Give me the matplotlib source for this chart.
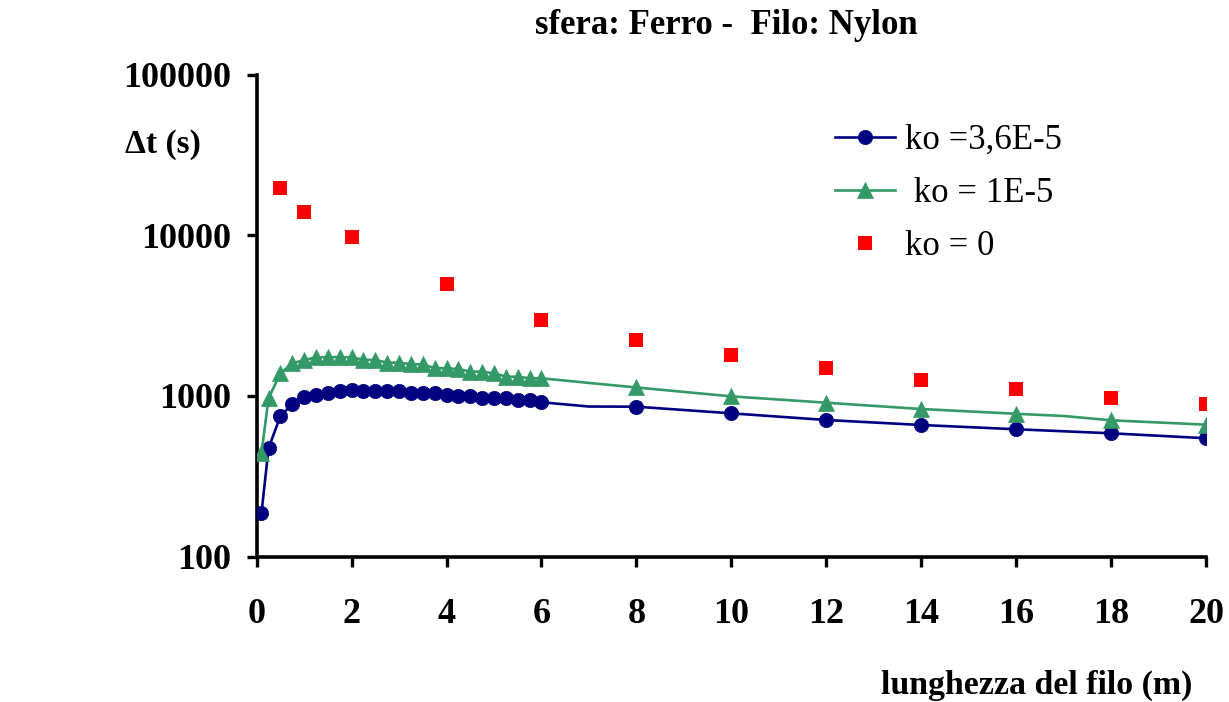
import matplotlib
matplotlib.use("Agg")
import matplotlib.pyplot as plt
from matplotlib.ticker import FixedLocator, NullLocator, FixedFormatter
import numpy as np

# ---- data ----
x_fine = [0.1, 0.25, 0.5, 0.75, 1.0, 1.25, 1.5, 1.75, 2.0, 2.25, 2.5, 2.75,
          3.0, 3.25, 3.5, 3.75, 4.0, 4.25, 4.5, 4.75, 5.0, 5.25, 5.5, 5.75, 6.0]
x_coarse = [8, 10, 12, 14, 16, 18, 20]

blue_fine = [186, 473, 751, 892, 982, 1020, 1048, 1079, 1082, 1078, 1079, 1079,
             1076, 1045, 1048, 1046, 1010, 1006, 1004, 975, 972, 970, 948, 944, 914]
blue_coarse = [858, 780, 709, 660, 621, 586, 546]
blue_extra_x = [7]
blue_extra_y = [860]

green_fine = [440, 968, 1384, 1598, 1675, 1741, 1745, 1745, 1741, 1680, 1675, 1615,
              1612, 1578, 1575, 1490, 1487, 1472, 1420, 1417, 1384, 1320, 1318, 1290, 1289]
green_coarse = [1130, 995, 908, 830, 775, 706, 663]
green_extra_x = [7, 17]
green_extra_y = [1206, 751]

red_x = [0.5, 1, 2, 4, 6, 8, 10, 12, 14, 16, 18, 20]
red_y = [19780, 13900, 9800, 4980, 2970, 2230, 1793, 1485, 1258, 1105, 975, 887]

x_ticks = [0, 2, 4, 6, 8, 10, 12, 14, 16, 18, 20]
y_ticks = [100, 1000, 10000, 100000]
y_tick_labels = ["100", "1000", "10000", "100000"]

labels = ["ko =3,6E-5", " ko = 1E-5", "ko = 0"]
title = "sfera: Ferro -  Filo: Nylon"
xlabel = "lunghezza del filo (m)"
ylabel = "\u0394t (s)"

BLUE = "#000080"
GREEN = "#339966"
RED = "#FF0000"

plt.rcParams['font.family'] = ['Liberation Serif', 'DejaVu Serif']


def merged(xm, ym, xe, ye):
    pts = [(a, b, True) for a, b in zip(xm, ym)] + [(a, b, False) for a, b in zip(xe, ye)]
    pts.sort(key=lambda p: p[0])
    return [p[0] for p in pts], [p[1] for p in pts], [p[2] for p in pts]


W, H = 1229, 702
fig = plt.figure(figsize=(W / 100, H / 100), dpi=100)
x0, x1 = 256.7, 1206.0
y0, y1 = 556.7, 74.6
ax = fig.add_axes([x0 / W, 1 - y0 / H, (x1 - x0) / W, (y0 - y1) / H])

bx, by, bm = merged(x_fine + x_coarse, blue_fine + blue_coarse, blue_extra_x, blue_extra_y)
gx, gy, gm = merged(x_fine + x_coarse, green_fine + green_coarse, green_extra_x, green_extra_y)

ax.plot(bx, by, color=BLUE, lw=1.9, marker='o', ms=10.3, mew=0.5, mec=BLUE,
        mfc=BLUE, markevery=bm, label=labels[0], zorder=3)
ax.plot(gx, gy, color=GREEN, lw=1.9, marker='^', ms=11.8, mew=0.5, mec=GREEN,
        mfc=GREEN, markevery=gm, label=labels[1], zorder=3)
ax.plot(red_x, red_y, linestyle='none', marker='s', ms=9.6, mew=0, color=RED,
        label=labels[2], zorder=3)

ax.set_yscale('log')
ax.set_xlim(0, 20)
ax.set_ylim(100, 100000)
ax.xaxis.set_major_locator(FixedLocator(x_ticks))
ax.yaxis.set_major_locator(FixedLocator(y_ticks))
ax.yaxis.set_major_formatter(FixedFormatter(y_tick_labels))
ax.yaxis.set_minor_locator(NullLocator())
ax.xaxis.set_minor_locator(NullLocator())

for s in ['top', 'right']:
    ax.spines[s].set_visible(False)
for s in ['left', 'bottom']:
    ax.spines[s].set_linewidth(2.6)
    ax.spines[s].set_color('black')

ax.tick_params(axis='x', direction='out', length=7.5, width=2.4, pad=22,
               labelsize=26)
ax.tick_params(axis='y', direction='out', length=7.5, width=2.4, pad=11,
               labelsize=26)
for lab in ax.get_xticklabels() + ax.get_yticklabels():
    lab.set_fontweight('bold')

fig.text(726.5 / W, 1 - 26 / H, title, ha='center', va='center',
         fontsize=25, fontweight='bold')
fig.text(1037 / W, 1 - 685 / H, xlabel, ha='center', va='center',
         fontsize=24.4, fontweight='bold')
fig.text(125 / W, 1 - 145 / H, ylabel, ha='left', va='center',
         fontsize=24, fontweight='bold')

leg = ax.legend(loc='upper left', bbox_to_anchor=(835 / W, 1 - 124 / H),
                bbox_transform=fig.transFigure, frameon=False, fontsize=25,
                handlelength=1.73, handletextpad=0.3, labelspacing=0.58,
                borderpad=0, borderaxespad=0, numpoints=1)

fig.savefig("out.png", dpi=100)
